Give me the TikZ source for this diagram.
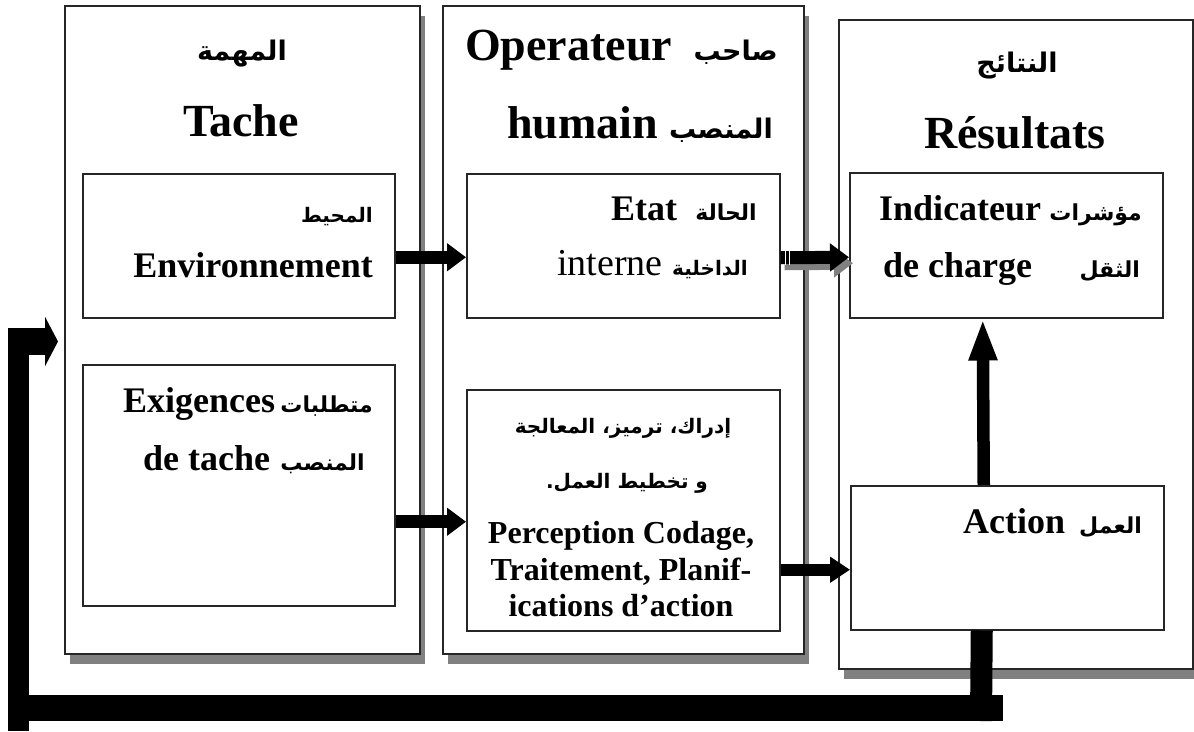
\documentclass[tikz,border=0pt]{standalone}
\usepackage{fontspec}
\setmainfont{Liberation Serif}
\newfontfamily\arabicfont[Script=Arabic]{DejaVu Sans}
\TeXXeTstate=1
\usetikzlibrary{arrows.meta,shadows}
\newcommand{\artxt}[1]{{\arabicfont\beginR #1\endR}}

\begin{document}
\begin{tikzpicture}[x=1pt,y=-1pt,
  panel/.style={draw=black!85, line width=1.5pt, fill=white, inner sep=0pt,
    anchor=north west,
    drop shadow={shadow xshift=5.5pt, shadow yshift=-10pt, fill=black!50, opacity=1}},
  inbox/.style={draw=black!85, line width=1.5pt, fill=white, inner sep=0pt, anchor=north west},
  big/.style={font=\fontsize{46}{50}\selectfont\bfseries, inner sep=0pt},
  mid/.style={font=\fontsize{36}{40}\selectfont\bfseries, inner sep=0pt},
  midr/.style={font=\fontsize{38}{42}\selectfont, inner sep=0pt},
  sml/.style={font=\fontsize{32}{36}\selectfont\bfseries, inner sep=0pt},
  arbig/.style={font=\fontsize{27}{30}\selectfont\bfseries, inner sep=0pt},
  armid/.style={font=\fontsize{22}{26}\selectfont\bfseries, inner sep=0pt},
  arsml/.style={font=\fontsize{20}{24}\selectfont\bfseries, inner sep=0pt},
  arr/.style={line width=13pt, -{Triangle[length=19pt,width=27pt]}},
  fb/.style={line width=#1pt, black}
]
\useasboundingbox (0,0) rectangle (1194,731);

% three framed columns with drop shadows
\node[panel, minimum width=355pt, minimum height=648pt] (tache) at (64,5) {};
\node[panel, minimum width=361pt, minimum height=648pt] (oper) at (442,5) {};
\node[panel, minimum width=354pt, minimum height=649pt] (res) at (838,19) {};

% inner boxes
\node[inbox, minimum width=312pt, minimum height=144pt] (env) at (82,173) {};
\node[inbox, minimum width=312pt, minimum height=241pt] (exig) at (82,364) {};
\node[inbox, minimum width=313pt, minimum height=144pt] (etat) at (466,173) {};
\node[inbox, minimum width=313pt, minimum height=241pt] (perc) at (466,389) {};
\node[inbox, minimum width=313pt, minimum height=145pt] (ind) at (849,172) {};
\node[inbox, minimum width=313pt, minimum height=144pt] (act) at (850,485) {};

% column: task
\node[arbig, anchor=base] (tAr) at (242,60) {\artxt{المهمة}};
\node[big, anchor=base] (tLa) at (241,136) {Tache};
\node[arsml, anchor=base east] (envAr) at (373,222) {\artxt{المحيط}};
\node[mid, anchor=base east] (envLa) at (373,277) {Environnement};
\node[mid, anchor=base west] (exLa) at (123,412) {Exigences};
\node[armid, anchor=base east] (exAr) at (373,412) {\artxt{متطلبات}};
\node[mid, anchor=base west] (exLb) at (143,470) {de tache};
\node[armid, anchor=base east] (exAb) at (365,470) {\artxt{المنصب}};

% column: human operator
\node[big, anchor=base west] (oLa) at (465,60) {Operateur};
\node[arbig, anchor=base east] (oAr) at (778,60) {\artxt{صاحب}};
\node[big, anchor=base west] (oLb) at (507,138) {humain};
\node[arbig, anchor=base east] (oAb) at (773,138) {\artxt{المنصب}};
\node[mid, anchor=base west] (etLa) at (611,220) {Etat};
\node[armid, anchor=base east] (etAr) at (757,220) {\artxt{الحالة}};
\node[midr, anchor=base west] (etLb) at (557,275) {interne};
\node[arsml, anchor=base east] (etAb) at (748,275) {\artxt{الداخلية}};
\node[arsml, anchor=base] (pAr) at (623,433) {\artxt{إدراك، ترميز، المعالجة}};
\node[arsml, anchor=base] (pAb) at (627,488) {\artxt{و تخطيط العمل.}};
\node[sml, anchor=base] (pL1) at (621,543) {Perception Codage,};
\node[sml, anchor=base] (pL2) at (621,580) {Traitement, Planif-};
\node[sml, anchor=base] (pL3) at (621,616) {ications d’action};

% column: results
\node[arbig, anchor=base] (rAr) at (1017,72) {\artxt{النتائج}};
\node[big, anchor=base] (rLa) at (1015,148) {Résultats};
\node[mid, anchor=base west] (iLa) at (879,220) {Indicateur};
\node[armid, anchor=base east] (iAr) at (1142,220) {\artxt{مؤشرات}};
\node[mid, anchor=base west] (iLb) at (883,277) {de charge};
\node[armid, anchor=base east] (iAb) at (1140,277) {\artxt{الثقل}};
\node[mid, anchor=base west] (aLa) at (963,533) {Action};
\node[armid, anchor=base east] (aAr) at (1142,533) {\artxt{العمل}};

% flows between boxes
\draw[arr] ([yshift=-11.5pt]env.east) -- ([yshift=-11.5pt]etat.west);
\draw[arr, black!50] ([xshift=4pt,yshift=-18pt]etat.east) -- ([xshift=4pt,yshift=-18pt]ind.west);
\draw[arr] ([yshift=-12pt]etat.east) -- ([yshift=-12pt]ind.west);
\draw[white, line width=1.2pt] ([xshift=5pt,yshift=-5pt]etat.east) -- ([xshift=5pt,yshift=-19pt]etat.east);
\draw[white, line width=1.2pt] ([xshift=9pt,yshift=-5pt]etat.east) -- ([xshift=9pt,yshift=-19pt]etat.east);
\draw[arr] ([yshift=-36.5pt]exig.east) -- ([yshift=-11.5pt]perc.west);
\draw[arr, line width=12pt, -{Triangle[length=20pt,width=25pt]}] ([yshift=-59.5pt]perc.east) -- ([yshift=-12pt]act.west);
\draw[line width=12.5pt, -{Triangle[length=42pt,width=26pt]}] ([xshift=-23.5pt]act.north) -- ([xshift=-23.5pt]ind.south);

% feedback loop from the action back to the task
\coordinate (fb1) at (981,721);
\coordinate (fb2) at (1003,708);
\coordinate (fb3) at (8,708);
\coordinate (fb4) at (18.5,731);
\coordinate (fb5) at (18.5,328);
\coordinate (fb6) at (8,341.5);
\coordinate (fb7) at (58,341.5);
\draw[fb=22] ([xshift=-25.5pt]act.south) -- (fb1);
\draw[fb=26] (fb2) -- (fb3);
\draw[fb=21] (fb4) -- (fb5);
\draw[fb=27, -{Triangle[length=13pt,width=49pt]}] (fb6) -- (fb7);
\end{tikzpicture}
\end{document}
